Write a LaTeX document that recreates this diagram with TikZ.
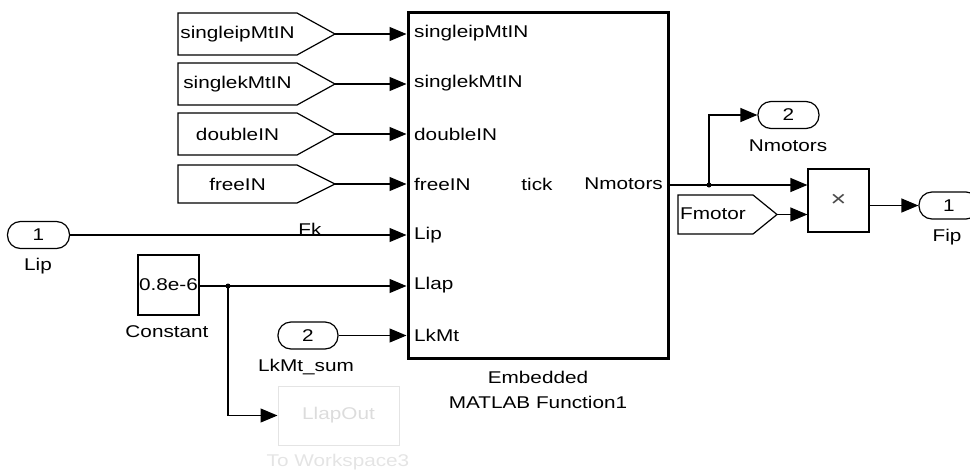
\documentclass[tikz,border=0pt]{standalone}
\usepackage{fontspec}
\setmainfont{Liberation Sans}[FakeStretch=1.22]
\usetikzlibrary{arrows.meta}
\definecolor{faint}{HTML}{E4E4E4}
\definecolor{fainttext}{HTML}{DCDCDC}
\newcommand\mytag[7]{%
  \coordinate (#1tip) at (#4,{(#5+#6)/2});
  \draw[tagline] (#2,#5) -- (#3,#5) -- (#1tip) -- (#3,#6) -- (#2,#6) -- cycle;
  \node[lbl] (#1) at ({(#2+#3)/2},{(#5+#6)/2}) {#7};}
\begin{document}
\begin{tikzpicture}[x=1pt,y=-1pt,
  font=\fontsize{17}{19}\selectfont,
  wire/.style={line width=1.2pt},
  sig/.style={wire,-{Triangle[length=17pt,width=14pt]}},
  tagline/.style={line width=1.2pt},
  port/.style={draw, line width=1.2pt, rounded corners=13pt, minimum width=62pt, minimum height=27pt, inner sep=0pt},
  blk/.style={draw, line width=1.2pt, inner sep=0pt},
  lbl/.style={inner sep=0pt},
  dot/.style={circle, fill, inner sep=0pt, minimum size=5pt}]
\useasboundingbox (0,0) rectangle (970,475);
\clip (0,0) rectangle (970,475);

% main block
\node[draw, line width=3pt, minimum width=260pt, minimum height=346pt, inner sep=0pt] (emb) at (538,185) {};
\node[lbl, anchor=west] (p1) at (414,33) {singleipMtIN};
\node[lbl, anchor=west] (p2) at (414,83) {singlekMtIN};
\node[lbl, anchor=west] (p3) at (414,134) {doubleIN};
\node[lbl, anchor=west] (p4) at (414,184) {freeIN};
\node[lbl, anchor=west] (p5) at (414,235) {Lip};
\node[lbl, anchor=west] (p6) at (414,285) {Llap};
\node[lbl, anchor=west] (p7) at (414,335) {LkMt};
\node[lbl] (tick) at (537,184) {tick};
\node[lbl, anchor=east] (po) at (663,184) {Nmotors};
\node[lbl] (embl1) at (538,377) {Embedded};
\node[lbl] (embl2) at (538,402) {MATLAB Function1};

% goto/from tags
\mytag{t1}{178}{297}{335}{13}{55}{singleipMtIN}
\mytag{t2}{178}{297}{335}{63}{105}{singlekMtIN}
\mytag{t3}{178}{297}{335}{113}{155}{doubleIN}
\mytag{t4}{178}{297}{335}{165}{203}{freeIN}
\foreach \t in {t1,t2,t3,t4} \draw[sig] (\t tip) -- (\t tip -| emb.west);

% Lip inport
\node[port] (lip) at (38.5,235) {1};
\node[lbl] (lipl) at (38,266) {Lip};
\draw[sig] (lip.east) -- (lip.east -| emb.west);
\node[lbl, anchor=base] (fk) at (310,235) {Fk};

% Constant
\node[blk, minimum width=61pt, minimum height=60pt] (const) at (168.5,285) {0.8e-6};
\node[lbl] (constl) at (167,332) {Constant};
\node[dot] (j1) at (228,286) {};
\draw[sig] (const.east |- j1) -- (j1 -| emb.west);

% To workspace
\node[draw=faint, line width=1pt, minimum width=121pt, minimum height=59pt, inner sep=0pt, text=fainttext] (ws) at (338.5,415.5) {LlapOut};
\node[lbl, text=faint] (wsl) at (338,462) {To Workspace3};
\draw[sig] (j1.center) |- (ws.west);

% LkMt_sum inport
\node[port, minimum width=60pt] (lk) at (308,335.5) {2};
\node[lbl] (lkl) at (306,367) {LkMt\_sum};
\draw[sig] (lk.east) -- (lk.east -| emb.west);

% right side
\node[blk, minimum width=61pt, minimum height=63pt] (prod) at (838.5,200.5) {\fontsize{22}{22}\selectfont\color{black!70}×};
\coordinate (out) at (emb.east |- 0,185);
\node[dot] (j2) at (709,185) {};
\node[port, minimum width=61pt] (nm) at (788.5,115) {2};
\node[lbl] (nml) at (788,146) {Nmotors};
\draw[wire] (out) -- (j2.center);
\draw[sig] (j2.center) -- (j2.center -| prod.west);
\draw[sig] (j2.center) |- (nm.west);

\mytag{fm}{678}{753}{777}{195}{234}{}
\node[lbl, anchor=west] (fmt) at (680,214) {Fmotor};
\draw[sig] (fmtip) -- (fmtip -| prod.west);

\node[port, minimum width=60pt] (fip) at (949,205.5) {1};
\node[lbl] (fipl) at (947,237) {Fip};
\draw[sig] (prod.east |- fip) -- (fip.west);
\end{tikzpicture}
\end{document}
